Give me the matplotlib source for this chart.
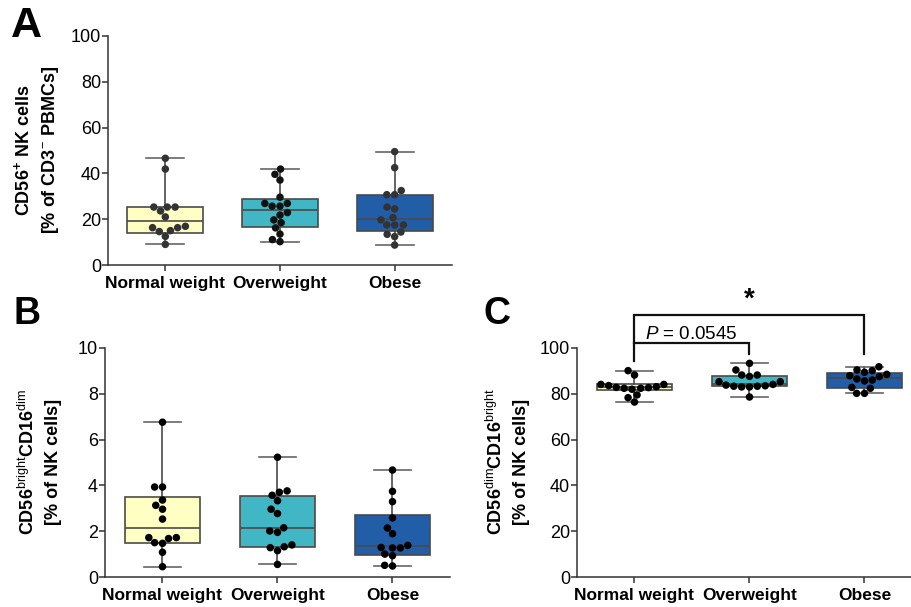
import matplotlib
matplotlib.use("Agg")
import matplotlib.pyplot as plt
import pandas as pd
import seaborn as sns

plt.rcParams["font.family"] = ["Liberation Sans", "DejaVu Sans"]
plt.rcParams["mathtext.fontset"] = "custom"
plt.rcParams["mathtext.rm"] = "Liberation Sans"
plt.rcParams["mathtext.it"] = "Liberation Sans:italic"
plt.rcParams["mathtext.bf"] = "Liberation Sans:bold"

grupos = ["Normal weight", "Overweight", "Obese"]
cores_caixas = ["#ffffc4", "#41b6c4", "#225ea8"]

# Painel A - CD56+ NK cells (% of CD3- PBMCs)
a_normal = [46.6, 41.9, 25.3, 25.3, 25.3, 23.6, 21.0, 16.9, 16.3, 14.6, 15.0, 16.3, 12.5, 9.0]
a_sobrepeso = [41.9, 39.6, 37.1, 29.6, 26.9, 25.7, 25.7, 26.9, 22.9, 21.8, 19.7, 18.5, 16.2, 13.5, 11.1, 10.2]
a_obeso = [49.5, 42.5, 32.5, 30.7, 30.7, 24.5, 25.3, 20.7, 19.7, 17.5, 17.5, 17.5, 14.4, 13.4, 12.4, 8.7]
a_q1 = [14.1, 16.4, 15.0]
a_mediana = [19.1, 24.2, 20.2]
a_q3 = [25.2, 28.8, 30.7]

# Painel B - CD56bright CD16dim (% of NK cells)
b_normal = [6.76, 3.93, 3.93, 3.36, 3.13, 2.96, 2.53, 1.72, 1.68, 1.72, 1.47, 1.50, 1.08, 0.45]
b_sobrepeso = [5.23, 3.76, 3.70, 3.57, 3.33, 2.96, 2.77, 2.15, 2.01, 1.95, 1.40, 1.28, 1.32, 1.15, 0.55]
b_obeso = [4.67, 3.74, 3.29, 2.58, 2.14, 1.89, 1.38, 1.27, 1.27, 1.29, 1.00, 0.93, 0.48, 0.51]
b_q1 = [1.47, 1.32, 0.97]
b_mediana = [2.13, 2.15, 1.34]
b_q3 = [3.51, 3.55, 2.72]

# Painel C - CD56dim CD16bright (% of NK cells)
c_normal = [90.1, 88.2, 84.1, 83.1, 82.7, 82.4, 82.0, 83.6, 82.8, 84.1, 82.4, 79.5, 78.3, 76.4]
c_sobrepeso = [93.3, 90.4, 88.2, 87.6, 88.2, 85.3, 83.8, 83.3, 83.0, 83.0, 83.3, 83.5, 84.1, 85.3, 78.6]
c_obeso = [91.8, 89.4, 90.4, 90.1, 87.5, 88.5, 87.9, 86.0, 86.5, 85.6, 82.4, 82.8, 80.2, 80.2]
c_q1 = [81.8, 83.4, 82.4]
c_mediana = [83.1, 84.1, 87.0]
c_q3 = [84.3, 87.9, 88.9]

# Anotacoes de significancia do painel C
texto_p = "0.0545"

W, H = 912, 607
fig = plt.figure(figsize=(W / 100, H / 100), dpi=100)


def eixo_px(x0, y0, x1, y1):
    """Cria eixo a partir de coordenadas em pixels (topo-esquerda)."""
    return fig.add_axes([x0 / W, 1 - y1 / H, (x1 - x0) / W, (y1 - y0) / H])


def desenhar_painel(ax, valores, q1, mediana, q3, cores_pontos, ylim, yticks):
    ax.set_ylim(*ylim)
    ax.set_xlim(-0.5, 2.5)

    stats = []
    for i, v in enumerate(valores):
        stats.append({"med": mediana[i], "q1": q1[i], "q3": q3[i],
                      "whislo": min(v), "whishi": max(v), "fliers": []})
    cinza = "#4a4a4a"
    caixas = ax.bxp(stats, positions=[0, 1, 2], widths=0.66, patch_artist=True,
                    showfliers=False, capwidths=0.33,
                    boxprops=dict(edgecolor=cinza, linewidth=1.2),
                    medianprops=dict(color=cinza, linewidth=1.2),
                    whiskerprops=dict(color=cinza, linewidth=1.2),
                    capprops=dict(color="#666666", linewidth=1.2))
    for patch, cor in zip(caixas["boxes"], cores_caixas):
        patch.set_facecolor(cor)

    df = pd.DataFrame({
        "grupo": sum([[g] * len(v) for g, v in zip(grupos, valores)], []),
        "valor": sum([list(v) for v in valores], []),
    })
    sns.swarmplot(data=df, x="grupo", y="valor", hue="grupo", order=grupos,
                  hue_order=grupos, palette=cores_pontos, size=5.4,
                  legend=False, ax=ax, zorder=5, linewidth=0)

    ax.set_xlim(-0.5, 2.5)
    ax.set_ylim(*ylim)
    ax.set_yticks(yticks)
    ax.set_xticks([0, 1, 2])
    ax.set_xticklabels(grupos, fontweight="bold", fontsize=12.5)
    ax.set_xlabel("")
    ax.set_ylabel("")
    ax.tick_params(axis="y", labelsize=13, length=4, width=1.1, pad=1, color="#333333")
    ax.tick_params(axis="x", length=4, width=1.1, pad=4, color="#333333")
    for lado in ["top", "right"]:
        ax.spines[lado].set_visible(False)
    for lado in ["left", "bottom"]:
        ax.spines[lado].set_linewidth(1.1)
        ax.spines[lado].set_color("#333333")


# Painel A
ax_a = eixo_px(108, 36, 452, 265)
desenhar_painel(ax_a, [a_normal, a_sobrepeso, a_obeso], a_q1, a_mediana, a_q3,
                ["#333333", "#111111", "#333333"], (0, 100), range(0, 101, 20))
fig.text(26 / W, 1 - 26 / H, "A", fontsize=31, fontweight="bold", ha="center", va="center")
fig.text(37 / W, 1 - 150 / H, "CD56$^{\\mathbf{+}}$ NK cells\n[% of CD3$^{\\mathrm{-}}$ PBMCs]",
         rotation=90, ha="center", va="center", fontsize=13, fontweight="bold",
         multialignment="center", linespacing=1.5)

# Painel B
ax_b = eixo_px(105, 348, 450, 577)
desenhar_painel(ax_b, [b_normal, b_sobrepeso, b_obeso], b_q1, b_mediana, b_q3,
                ["black", "black", "black"], (0, 10), range(0, 11, 2))
fig.text(27 / W, 1 - 314 / H, "B", fontsize=27, fontweight="bold", ha="center", va="center")
fig.text(40 / W, 1 - 462 / H, "CD56$^{\\mathrm{bright}}$CD16$^{\\mathrm{dim}}$\n[% of NK cells]",
         rotation=90, ha="center", va="center", fontsize=13, fontweight="bold",
         multialignment="center", linespacing=1.5)

# Painel C
ax_c = eixo_px(577, 348, 922, 577)
desenhar_painel(ax_c, [c_normal, c_sobrepeso, c_obeso], c_q1, c_mediana, c_q3,
                ["black", "black", "black"], (0, 100), range(0, 101, 20))
fig.text(497 / W, 1 - 314 / H, "C", fontsize=27, fontweight="bold", ha="center", va="center")
fig.text(508 / W, 1 - 462 / H, "CD56$^{\\mathrm{dim}}$CD16$^{\\mathrm{bright}}$\n[% of NK cells]",
         rotation=90, ha="center", va="center", fontsize=13, fontweight="bold",
         multialignment="center", linespacing=1.5)

# Colchetes de comparacao
ax_c.plot([0, 0, 2, 2], [94.2, 114.4, 114.4, 97.4], color="#111111", lw=1.6,
          clip_on=False, solid_joinstyle="miter")
ax_c.plot([0, 1, 1], [102.3, 102.3, 97.4], color="#111111", lw=1.6,
          clip_on=False, solid_joinstyle="miter")
ax_c.text(1, 115.5, "*", ha="center", va="bottom", fontsize=20, fontweight="bold")
ax_c.text(0.49, 104, "$\\mathit{P}$ = " + texto_p, ha="center", va="baseline", fontsize=13.5)

fig.savefig("out.png", dpi=100)
